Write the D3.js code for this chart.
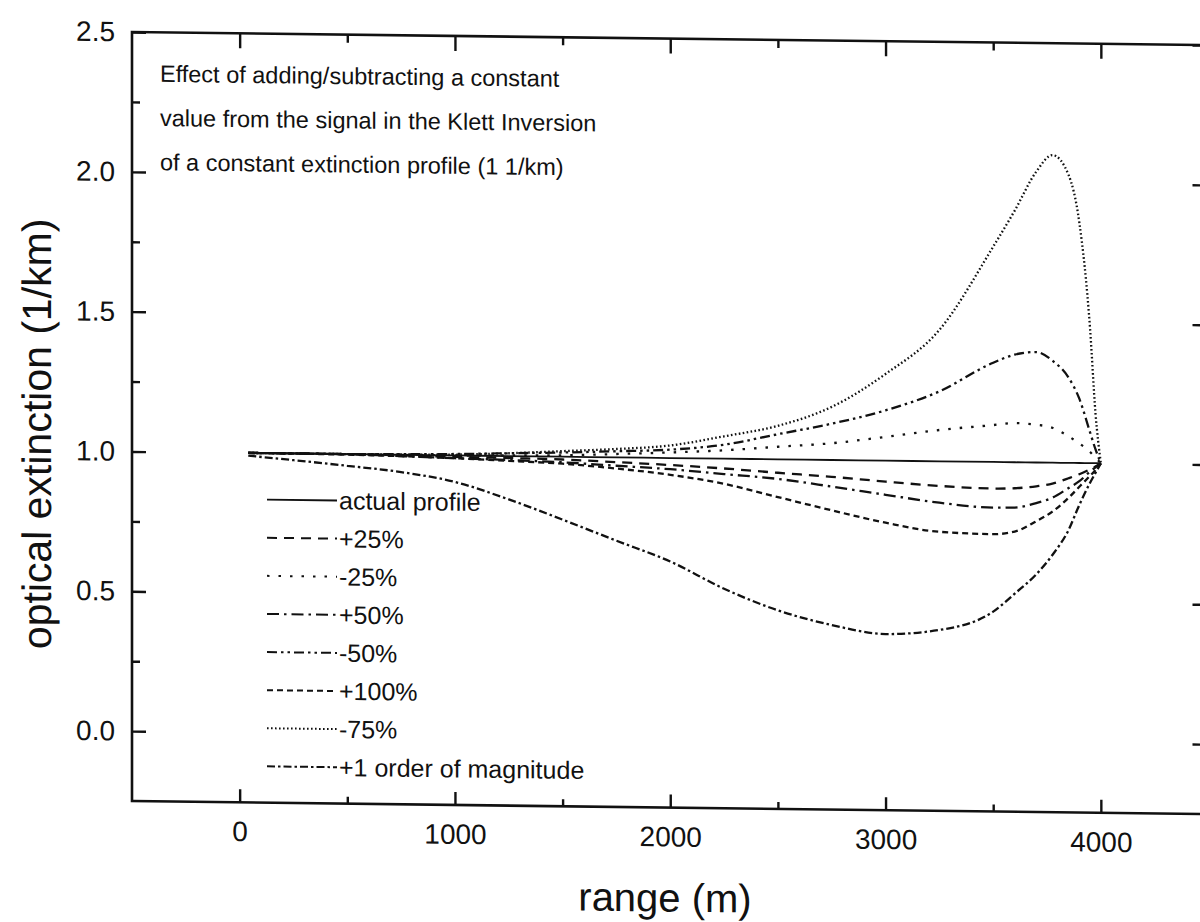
<!DOCTYPE html>
<html>
<head>
<meta charset="utf-8">
<script src="https://cdn.jsdelivr.net/npm/d3@7"></script>
<style>
body { margin: 0; background: #fff; }
svg { display: block; font-family: "Liberation Sans", Arial, sans-serif; }
</style>
</head>
<body>
<script>
var width = 1200, height = 922;

// range (m) shared by every series
var ranges = [40, 500, 750, 1000, 1250, 1500, 1750, 2000, 2250, 2500, 2750, 3000, 3250, 3500, 3600, 3700, 3775, 3850, 3900, 3950, 3975, 4000];

// optical extinction (1/km)
var actualProfile = [1, 1, 1, 1, 1, 1, 1, 1, 1, 1, 1, 1, 1, 1, 1, 1, 1, 1, 1, 1, 1, 1];
var plus25   = [1, 1, 0.998, 0.995, 0.993, 0.99, 0.983, 0.975, 0.965, 0.952, 0.94, 0.925, 0.912, 0.905, 0.907, 0.915, 0.925, 0.945, 0.96, 0.978, 0.988, 1];
var minus25  = [1, 1, 1, 1, 1.002, 1.005, 1.012, 1.02, 1.03, 1.045, 1.06, 1.085, 1.112, 1.132, 1.14, 1.135, 1.125, 1.095, 1.07, 1.04, 1.02, 1];
var plus50   = [1, 1, 0.995, 0.99, 0.986, 0.98, 0.97, 0.96, 0.945, 0.93, 0.905, 0.878, 0.852, 0.837, 0.838, 0.855, 0.875, 0.91, 0.935, 0.97, 0.985, 1];
var minus50  = [1, 1, 1.002, 1.005, 1.01, 1.015, 1.022, 1.03, 1.05, 1.09, 1.13, 1.18, 1.25, 1.355, 1.385, 1.395, 1.365, 1.305, 1.23, 1.11, 1.05, 1];
var plus100  = [1, 0.998, 0.995, 0.99, 0.983, 0.975, 0.96, 0.94, 0.91, 0.865, 0.82, 0.778, 0.748, 0.742, 0.752, 0.79, 0.825, 0.875, 0.915, 0.955, 0.975, 1];
var minus75  = [1, 1, 1.001, 1.003, 1.01, 1.02, 1.03, 1.045, 1.08, 1.12, 1.19, 1.31, 1.47, 1.77, 1.9, 2.04, 2.1, 2.03, 1.86, 1.48, 1.18, 1];
var plusOrder = [0.99, 0.958, 0.938, 0.905, 0.845, 0.775, 0.702, 0.63, 0.535, 0.46, 0.41, 0.38, 0.397, 0.465, 0.53, 0.6, 0.67, 0.76, 0.85, 0.93, 0.965, 1];

var seriesNames = ["actual profile", "+25%", "-25%", "+50%", "-50%", "+100%", "-75%", "+1 order of magnitude"];
var seriesValues = [actualProfile, plus25, minus25, plus50, minus50, plus100, minus75, plusOrder];
var seriesDash = ["none", "10,7", "2.5,9", "12,5,2.5,5", "10,4,2.5,4,2.5,4", "6,4", "1.6,2.4", "8,3,2.5,3"];

var xMajor = [0, 1000, 2000, 3000, 4000];
var xMinor = [500, 1500, 2500, 3500];
var yMajor = [0, 0.5, 1.0, 1.5, 2.0, 2.5];
var yMinor = [0.25, 0.75, 1.25, 1.75, 2.25];

var note = ["Effect of adding/subtracting a constant",
            "value from the signal in the Klett Inversion",
            "of a constant extinction profile (1 1/km)"];

var svg = d3.select("body").append("svg")
    .attr("width", width)
    .attr("height", height);

// the scan is slightly sheared, horizontal lines sink to the right
var k = 0.0122, x0 = 131;
var g = svg.append("g")
    .attr("transform", "translate(0," + (-k * x0) + ") skewY(" + (Math.atan(k) * 180 / Math.PI) + ")");

var x = d3.scaleLinear().domain([-500, 4500]).range([132, 1208.5]);
var y = d3.scaleLinear().domain([-0.25, 2.5]).range([801, 32]);

var plotLeft = x.range()[0], plotRight = x.range()[1];
var plotTop = y.range()[1], plotBottom = y.range()[0];

// axes, ticks point inward
function styleAxis(sel) {
    sel.select(".domain").remove();
    sel.selectAll(".tick line").attr("stroke", "#111").attr("stroke-width", 2.4);
    sel.selectAll("text").attr("font-size", 28).attr("fill", "#111")
       .attr("font-family", "'Liberation Sans', Arial, sans-serif");
}

g.append("g").attr("transform", "translate(0," + plotBottom + ")")
    .call(d3.axisBottom(x).tickValues(xMajor).tickSize(-13).tickPadding(19).tickFormat(d3.format("d")))
    .call(styleAxis);
g.append("g").attr("transform", "translate(0," + plotBottom + ")")
    .call(d3.axisBottom(x).tickValues(xMinor).tickSize(-7).tickFormat(""))
    .call(styleAxis);
g.append("g").attr("transform", "translate(0," + plotTop + ")")
    .call(d3.axisTop(x).tickValues(xMajor).tickSize(-15).tickFormat(""))
    .call(styleAxis);
g.append("g").attr("transform", "translate(0," + plotTop + ")")
    .call(d3.axisTop(x).tickValues(xMinor).tickSize(-8).tickFormat(""))
    .call(styleAxis);

g.append("g").attr("transform", "translate(" + plotLeft + ",0)")
    .call(d3.axisLeft(y).tickValues(yMajor).tickSize(-14).tickPadding(17).tickFormat(d3.format(".1f")))
    .call(styleAxis);
g.append("g").attr("transform", "translate(" + plotLeft + ",0)")
    .call(d3.axisLeft(y).tickValues(yMinor).tickSize(-8).tickFormat(""))
    .call(styleAxis);
g.append("g").attr("transform", "translate(" + plotRight + ",0)")
    .call(d3.axisRight(y).tickValues(yMajor).tickSize(-16).tickFormat(""))
    .call(styleAxis);
g.append("g").attr("transform", "translate(" + plotRight + ",0)")
    .call(d3.axisRight(y).tickValues(yMinor).tickSize(-8).tickFormat(""))
    .call(styleAxis);

// frame
g.append("rect")
    .attr("x", plotLeft).attr("y", plotTop)
    .attr("width", plotRight - plotLeft).attr("height", plotBottom - plotTop)
    .attr("fill", "none").attr("stroke", "#111").attr("stroke-width", 2.6);

// curves
var line = d3.line()
    .x(function(d) { return x(d[0]); })
    .y(function(d) { return y(d[1]); })
    .curve(d3.curveMonotoneX);

seriesValues.forEach(function(vals, i) {
    g.append("path")
        .datum(ranges.map(function(r, j) { return [r, vals[j]]; }))
        .attr("d", line)
        .attr("fill", "none")
        .attr("stroke", "#111")
        .attr("stroke-width", i == 0 ? 1.8 : 2.3)
        .attr("stroke-dasharray", seriesDash[i]);
});

// note in the top left
g.append("g").selectAll("text").data(note).enter().append("text")
    .attr("x", 160)
    .attr("y", function(d, i) { return 81.5 + i * 44.2; })
    .attr("font-size", 23.5)
    .attr("fill", "#111")
    .text(function(d) { return d; });

// legend
var legend = g.append("g");
seriesNames.forEach(function(name, i) {
    var ly = 498 + i * 38.1;
    legend.append("line")
        .attr("x1", 267).attr("x2", 337)
        .attr("y1", ly).attr("y2", ly)
        .attr("stroke", "#111")
        .attr("stroke-width", i == 0 ? 1.8 : 2)
        .attr("stroke-dasharray", seriesDash[i]);
    legend.append("text")
        .attr("x", 339).attr("y", ly)
        .attr("dy", "0.35em")
        .attr("font-size", 25)
        .attr("fill", "#111")
        .text(name);
});

// axis titles
g.append("text")
    .attr("x", 665).attr("y", 905)
    .attr("text-anchor", "middle")
    .attr("font-size", 40)
    .attr("fill", "#111")
    .text("range (m)");

g.append("text")
    .attr("transform", "translate(51,435) rotate(-90)")
    .attr("text-anchor", "middle")
    .attr("font-size", 41)
    .attr("fill", "#111")
    .text("optical extinction (1/km)");
</script>
</body>
</html>
